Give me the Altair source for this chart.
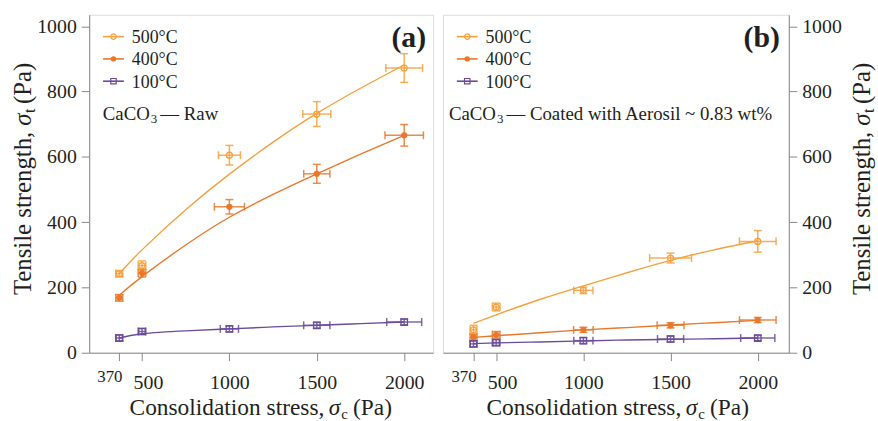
import altair as alt
import pandas as pd

FONT = "Liberation Serif"
TEXT_COLOR = "#231F20"
FRAME_COLOR = "#2A2A2A"

# ---------------- data ----------------
SERIES = ["500°C", "400°C", "100°C"]
COLORS = ["#F8A03C", "#E9782C", "#6B4C9A"]
X_VALS = [370, 500, 1000, 1500, 2000]
X_TICKS = [370, 500, 1000, 1500, 2000]
Y_TICKS = [0, 200, 400, 600, 800, 1000]

# panel (a): CaCO3 raw
A_500_Y = [242, 267, 605, 731, 872]
A_500_XERR = [20, 22, 63, 80, 105]
A_500_YERR = [10, 14, 30, 38, 44]
A_400_Y = [168, 244, 447, 548, 666]
A_400_XERR = [20, 22, 86, 75, 110]
A_400_YERR = [10, 12, 22, 29, 33]
A_100_Y = [45, 65, 73, 84, 94]
A_100_XERR = [20, 22, 52, 75, 100]
A_100_YERR = [9, 9, 9, 9, 9]

# panel (b): CaCO3 coated with Aerosil
B_500_Y = [70, 140, 191, 290, 341]
B_500_XERR = [20, 22, 55, 120, 105]
B_500_YERR = [14, 12, 10, 15, 33]
B_400_Y = [47, 55, 70, 84, 100]
B_400_XERR = [20, 22, 56, 77, 105]
B_400_YERR = [10, 10, 8, 8, 8]
B_100_Y = [27, 31, 37, 42, 45]
B_100_XERR = [20, 22, 55, 75, 98]
B_100_YERR = [9, 9, 9, 9, 8]

# fitted trend curves
FIT_X = [370, 500, 750, 1000, 1250, 1500, 1750, 2000]
FIT_A_500 = [242, 315, 438, 547, 645, 733, 810, 882]
FIT_A_400 = [176, 233, 330, 415, 485, 548, 608, 666]
FIT_A_100 = [45, 58, 67, 73, 79, 84, 89, 94]
FIT_B_500 = [90, 116, 163, 205, 245, 283, 315, 343]
FIT_B_400 = [47, 52, 61, 70, 77, 85, 92, 99]
FIT_B_100 = [28, 30, 33, 36, 39, 41, 43, 45]


def points_df(ys, xerrs, yerrs):
    rows = []
    for s, yv, xe, ye in zip(SERIES, ys, xerrs, yerrs):
        for x, y, a, b in zip(X_VALS, yv, xe, ye):
            rows.append(dict(series=s, x=x, y=y, xlo=x - a, xhi=x + a,
                             ylo=y - b, yhi=y + b))
    return pd.DataFrame(rows)


def fit_df(fits):
    rows = []
    for s, fy in zip(SERIES, fits):
        for x, y in zip(FIT_X, fy):
            rows.append(dict(series=s, x=x, y=y))
    return pd.DataFrame(rows)


def caps_df(df):
    xc = pd.concat([df[["series", "xlo", "y"]].rename(columns={"xlo": "xc"}),
                    df[["series", "xhi", "y"]].rename(columns={"xhi": "xc"})])
    yc = pd.concat([df[["series", "x", "ylo"]].rename(columns={"ylo": "yc"}),
                    df[["series", "x", "yhi"]].rename(columns={"yhi": "yc"})])
    return xc, yc


ONE = pd.DataFrame({"k": [0]})


def txt(text, x, y, size, align="left", style="normal", weight="normal",
        angle=0, baseline="alphabetic"):
    return alt.Chart(ONE).mark_text(
        text=text, align=align, baseline=baseline, font=FONT, fontSize=size,
        fontStyle=style, fontWeight=weight, angle=angle, color=TEXT_COLOR
    ).encode(x=alt.value(x), y=alt.value(y))


def panel(df, fits, tag, note, yorient, width, xdomain, xt_start, yt_x,
          bound_x):
    color = alt.Color("series:N", scale=alt.Scale(domain=SERIES, range=COLORS),
                      legend=None)
    xs = alt.Scale(domain=xdomain, nice=False, zero=False)
    ys = alt.Scale(domain=[0, 1035], nice=False, zero=False)
    xaxis = alt.Axis(
        values=X_TICKS, title=None, grid=False, tickSize=8, format="d",
        labelFont=FONT, labelColor=TEXT_COLOR, labelFlush=False,
        labelFontSize={"condition": {"test": "datum.value == 370", "value": 17},
                       "value": 20},
        labelOffset={"condition": [
            {"test": "datum.value == 370", "value": -10},
            {"test": "datum.value == 500", "value": 6}], "value": 0},
        labelPadding={"condition": {"test": "datum.value == 370", "value": 8},
                      "value": 12},
    )
    yaxis = alt.Axis(values=Y_TICKS, title=None, grid=False, orient=yorient,
                     tickSize=8, labelPadding=5, labelFont=FONT, format="d",
                     labelFontSize=20, labelColor=TEXT_COLOR)

    def X(f):
        return alt.X(f, type="quantitative", scale=xs, axis=xaxis)

    def Y(f):
        return alt.Y(f, type="quantitative", scale=ys, axis=yaxis)

    xc, yc = caps_df(df)
    base = alt.Chart(df)
    layers = []
    layers.append(alt.Chart(fit_df(fits)).mark_line(
        interpolate="natural", strokeWidth=1.4).encode(
        x=X("x"), y=Y("y"), color=color, detail="series:N"))
    layers.append(base.mark_rule(strokeWidth=1.5, opacity=0.85).encode(
        x=X("xlo"), x2="xhi", y=Y("y"), color=color))
    layers.append(base.mark_rule(strokeWidth=1.5, opacity=0.85).encode(
        x=X("x"), y=Y("ylo"), y2="yhi", color=color))
    layers.append(alt.Chart(xc).mark_tick(
        orient="vertical", size=8, thickness=1.5, opacity=0.85).encode(
        x=X("xc"), y=Y("y"), color=color))
    layers.append(alt.Chart(yc).mark_tick(
        orient="horizontal", size=8, thickness=1.5, opacity=0.85).encode(
        x=X("x"), y=Y("yc"), color=color))
    layers.append(base.transform_filter(
        alt.datum.series == SERIES[0]).mark_point(
        shape="circle", filled=False, size=36, strokeWidth=1.3, opacity=1).encode(
        x=X("x"), y=Y("y"), color=color))
    layers.append(base.transform_filter(
        alt.datum.series == SERIES[1]).mark_point(
        shape="circle", filled=True, size=40, opacity=1).encode(
        x=X("x"), y=Y("y"), color=color))
    layers.append(base.transform_filter(
        alt.datum.series == SERIES[2]).mark_point(
        shape="square", filled=False, size=42, strokeWidth=1.3, opacity=1).encode(
        x=X("x"), y=Y("y"), color=color))

    # legend
    shapes = ["circle", "circle", "square"]
    filled = [False, True, False]
    for i, (s, c) in enumerate(zip(SERIES, COLORS)):
        cy = 22 + 22.5 * i
        layers.append(alt.Chart(ONE).mark_rule(color=c, strokeWidth=1.6).encode(
            x=alt.value(14), x2=alt.value(35), y=alt.value(cy)))
        layers.append(alt.Chart(ONE).mark_point(
            shape=shapes[i], filled=filled[i], color=c, size=30, strokeWidth=1.2,
            opacity=1).encode(x=alt.value(24.5), y=alt.value(cy)))
        layers.append(txt(s, 43, cy + 6.5, 18))

    # annotation "CaCO3 — ..."
    nx = note[0]
    layers.append(txt("CaCO", nx, 106, 19))
    layers.append(txt("3", nx + 48.5, 109.5, 13))
    layers.append(txt(note[1], nx + 58, 106, 19))
    # panel tag
    layers.append(txt(tag, 340, 32, 30, align="right", weight="bold"))

    # x title
    xe = xt_start + 197
    xb = 404
    layers.append(txt("Consolidation stress,", xe, xb, 23.6, align="right"))
    layers.append(txt("σ", xe + 4.5, xb, 23.6, style="italic"))
    layers.append(txt("c", xe + 17, xb + 4, 15))
    layers.append(txt("(Pa)", xe + 29, xb, 23.6))

    # y title (rotated)
    layers.append(txt("Tensile strength,", yt_x, 118, 25, align="right", angle=270))
    layers.append(txt("σ", yt_x, 112, 25, style="italic", angle=270))
    layers.append(txt("t", yt_x + 4, 99, 16, angle=270))
    layers.append(txt("(Pa)", yt_x, 90, 25, angle=270))

    # invisible frame of the page
    layers.append(alt.Chart(ONE).mark_rule(opacity=0).encode(
        x=alt.value(bound_x), y=alt.value(-12), y2=alt.value(409)))

    return alt.layer(*layers).properties(width=width, height=341)


df_a = points_df([A_500_Y, A_400_Y, A_100_Y],
                 [A_500_XERR, A_400_XERR, A_100_XERR],
                 [A_500_YERR, A_400_YERR, A_100_YERR])
df_b = points_df([B_500_Y, B_400_Y, B_100_Y],
                 [B_500_XERR, B_400_XERR, B_100_XERR],
                 [B_500_YERR, B_400_YERR, B_100_YERR])

pa = panel(df_a, [FIT_A_500, FIT_A_400, FIT_A_100], "(a)",
           (13.7, "— Raw"), "left", 347, [198, 2165], 40.3, -58.3, -89)
pb = panel(df_b, [FIT_B_500, FIT_B_400, FIT_B_100], "(b)",
           (6, "— Coated with Aerosil ~ 0.83 wt%"), "right", 349, [195, 2178],
           43.5, 431, 433)

chart = alt.hconcat(pa, pb, spacing=8).properties(
    padding={"left": 0, "top": 0, "right": 0, "bottom": 0}
).configure_view(stroke=FRAME_COLOR, strokeWidth=1.2).configure_axis(
    domainColor=FRAME_COLOR, tickColor=FRAME_COLOR, domainWidth=1.2, tickWidth=1.2
).configure(background="white")

chart.save("out.html", embed_options={"renderer": "svg", "actions": False})
